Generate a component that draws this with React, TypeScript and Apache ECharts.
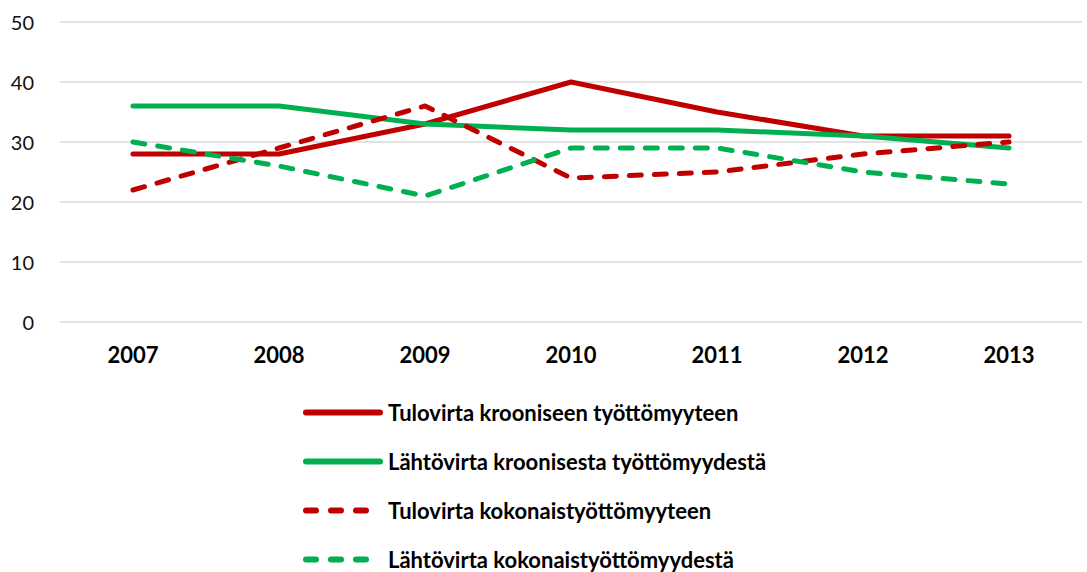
import React, { useEffect, useRef } from "react";
import * as echarts from "echarts";

const years = ["2007", "2008", "2009", "2010", "2011", "2012", "2013"];
const tuloKrooninen = [28, 28, 33, 40, 35, 31, 31];
const lahtoKrooninen = [36, 36, 33, 32, 32, 31, 29];
const tuloKokonais = [22, 29, 36, 24, 25, 28, 30];
const lahtoKokonais = [30, 26, 21, 29, 29, 25, 23];
const seriesNames = [
  "Tulovirta krooniseen työttömyyteen",
  "Lähtövirta kroonisesta työttömyydestä",
  "Tulovirta kokonaistyöttömyyteen",
  "Lähtövirta kokonaistyöttömyydestä",
];

const RED = "#C00000";
const GREEN = "#00B050";
const FONT = "Lato";

export default function App() {
  const ref = useRef<HTMLDivElement>(null);
  useEffect(() => {
    if (!ref.current) return;
    const chart = echarts.init(ref.current, undefined, { renderer: "svg" });
    const styles = [
      { color: RED, dashed: false },
      { color: GREEN, dashed: false },
      { color: RED, dashed: true },
      { color: GREEN, dashed: true },
    ];
    const datas = [tuloKrooninen, lahtoKrooninen, tuloKokonais, lahtoKokonais];
    const series = seriesNames.map((name, i) => ({
      name,
      type: "line",
      data: datas[i],
      symbol: "none",
      lineStyle: {
        color: styles[i].color,
        width: 5,
        type: styles[i].dashed ? [12, 13] : "solid",
        cap: "round",
        join: "round",
      },
      itemStyle: { color: styles[i].color },
    }));
    const legendData = seriesNames.map((name, i) => ({
      name,
      itemStyle: { opacity: 0 },
      lineStyle: {
        color: styles[i].color,
        width: 6,
        type: styles[i].dashed ? [10, 15] : "solid",
        cap: "round",
        opacity: 1,
      },
    }));
    chart.setOption({
      animation: false,
      textStyle: { fontFamily: FONT },
      grid: { left: 60, right: 5, top: 22, bottom: 250, containLabel: false },
      xAxis: {
        type: "category",
        data: years,
        boundaryGap: true,
        axisLine: { show: false },
        axisTick: { show: false },
        axisLabel: {
          margin: 21,
          fontSize: 22,
          fontWeight: "bold",
          color: "#000",
          fontFamily: FONT,
        },
      },
      yAxis: {
        type: "value",
        min: 0,
        max: 50,
        interval: 10,
        axisLine: { show: false },
        axisTick: { show: false },
        splitLine: { lineStyle: { color: "#d9d9d9", width: 1.5 } },
        axisLabel: { margin: 26, fontSize: 20, color: "#111", fontFamily: FONT },
      },
      legend: {
        orient: "vertical",
        left: 303,
        top: 399,
        height: 200,
        padding: 0,
        itemWidth: 74,
        itemHeight: 14,
        itemGap: 22,
        textStyle: {
          fontSize: 22,
          fontWeight: "bold",
          color: "#000",
          lineHeight: 27,
          fontFamily: FONT,
          padding: [0, 0, 0, 3],
        },
        data: legendData,
      },
      series,
    });
    return () => chart.dispose();
  }, []);
  return <div ref={ref} style={{ width: 1087, height: 572, position: "absolute", left: 0, top: 0 }} />;
}
